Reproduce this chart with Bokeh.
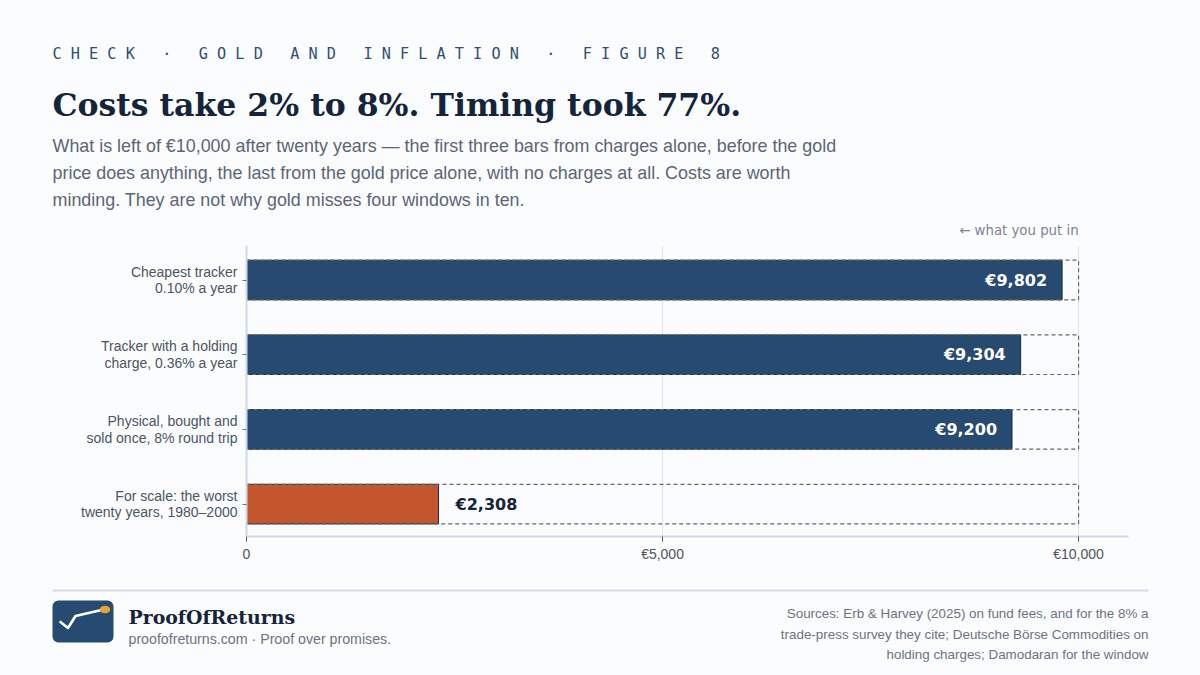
from bokeh.plotting import figure
from bokeh.layouts import column
from bokeh.models import Label, BoxAnnotation, FixedTicker, ColumnDataSource, Range1d
from bokeh.core.properties import value
from bokeh.embed import file_html
from bokeh.resources import INLINE

# ---------------- data ----------------
categories = [
    "Cheapest tracker\n0.10% a year",
    "Tracker with a holding\ncharge, 0.36% a year",
    "Physical, bought and\nsold once, 8% round trip",
    "For scale: the worst\ntwenty years, 1980\u20132000",
]
values = [9802, 9304, 9200, 2308]
bar_colors = ["#264a70", "#264a70", "#264a70", "#c4562e"]
stake = 10000
x_ticks = [0, 5000, 10000]
x_tick_labels = ["0", "\u20ac5,000", "\u20ac10,000"]

header = "CHECK \u00b7 GOLD AND INFLATION \u00b7 FIGURE 8"
title = "Costs take 2% to 8%. Timing took 77%."
subtitle_lines = [
    "What is left of \u20ac10,000 after twenty years \u2014 the first three bars from charges alone, before the gold",
    "price does anything, the last from the gold price alone, with no charges at all. Costs are worth",
    "minding. They are not why gold misses four windows in ten.",
]
stake_note = "\u2190 what you put in"
brand = "ProofOfReturns"
brand_tag = "proofofreturns.com \u00b7 Proof over promises."
source_lines = [
    "Sources: Erb & Harvey (2025) on fund fees, and for the 8% a",
    "trade-press survey they cite; Deutsche B\u00f6rse Commodities on",
    "holding charges; Damodaran for the window",
]

# ---------------- styling ----------------
BG = "#fbfcfe"
NAVY = "#264a70"
INK = "#14243b"
GREY = "#5b6577"
SANS = "Liberation Sans"

W = 1200
H1, H2, H3 = 243, 327, 105          # header / chart / footer heights
FL, FR, FT, FB = 246, 1128, 245, 536  # chart frame on the page
X_MAX = 10600


def blank(height, y0):
    f = figure(width=W, height=height, output_backend="svg", toolbar_location=None,
               x_range=Range1d(0, W), y_range=Range1d(y0 + height, y0),
               min_border=0, background_fill_color=BG, border_fill_color=BG,
               outline_line_color=None)
    f.axis.visible = False
    f.grid.visible = False
    return f


def lab(f, text, x, y, size, color, font=SANS, style="normal", align="left"):
    px = float(size[:-2])
    f.add_layout(Label(x=x, y=y - 0.35 * px, text=text, text_font=font,
                       text_font_size=size, text_font_style=style, text_color=color,
                       text_align=align, text_baseline="alphabetic"))


# ---------------- header ----------------
hdr = blank(H1, 0)
spaced = "\u00a0".join("\u00a0" if c == " " else c for c in header)
lab(hdr, spaced, 52, 59, "15.2px", "#2e4e75", font="DejaVu Sans Mono")
lab(hdr, title, 52, 115, "31.5px", INK, font="DejaVu Serif", style="bold")
for i, line in enumerate(subtitle_lines):
    lab(hdr, line, 52, 152 + 27 * i, "17.9px", GREY)
# note sits above the stake line of the chart below
note_x = FL + stake * (FR - FL) / X_MAX
lab(hdr, stake_note, note_x, 234.5, "13.3px", "#7b8494", font="DejaVu Sans", align="right")

# ---------------- chart ----------------
n = len(categories)
ypos = list(range(n - 1, -1, -1))
inside = [v > stake / 2 for v in values]
src = ColumnDataSource(dict(
    y=ypos,
    v=values,
    stake=[stake] * n,
    color=bar_colors,
    label=["\u20ac{:,}".format(v) for v in values],
    align=["right" if i else "left" for i in inside],
    xoff=[-15 if i else 17 for i in inside],
    tcolor=["#ffffff" if i else INK for i in inside],
))

p = figure(width=W, height=H2, output_backend="svg", toolbar_location=None,
           x_range=Range1d(0, X_MAX), y_range=Range1d(-0.434, 3.462),
           min_border_left=FL, min_border_right=W - FR,
           min_border_top=FT - H1, min_border_bottom=H1 + H2 - FB,
           background_fill_color=BG, border_fill_color=BG,
           outline_line_color=None)

p.xaxis.ticker = FixedTicker(ticks=x_ticks)
p.xaxis.major_label_overrides = dict(zip(x_ticks, x_tick_labels))
p.xaxis.axis_line_color = "#cfd9e6"
p.xaxis.axis_line_width = 2
p.xaxis.major_tick_line_color = "#4b5563"
p.xaxis.major_tick_in = 0
p.xaxis.major_tick_out = 5
p.xaxis.minor_tick_line_color = None
p.xaxis.major_label_text_font = SANS
p.xaxis.major_label_text_font_size = "14px"
p.xaxis.major_label_text_color = "#4b5563"
p.xaxis.major_label_standoff = 4

p.yaxis.ticker = FixedTicker(ticks=ypos)
p.yaxis.major_label_overrides = dict(zip(ypos, categories))
p.yaxis.axis_line_color = "#cfd9e6"
p.yaxis.axis_line_width = 2
p.yaxis.major_tick_line_color = "#6b7280"
p.yaxis.major_tick_in = 0
p.yaxis.major_tick_out = 4
p.yaxis.minor_tick_line_color = None
p.yaxis.major_label_text_font = SANS
p.yaxis.major_label_text_font_size = "14px"
p.yaxis.major_label_text_line_height = 1.03
p.yaxis.major_label_text_color = "#4b5563"
p.yaxis.major_label_standoff = 5

p.xgrid.ticker = FixedTicker(ticks=x_ticks)
p.xgrid.grid_line_color = "#dde4ee"
p.xgrid.grid_line_width = 1
p.ygrid.visible = False

p.hbar(y="y", left=0, right="v", height=0.53, fill_color="color",
       line_color="#1b2b42", line_width=1, source=src)
p.hbar(y="y", left=0, right="stake", height=0.53, fill_color=None,
       line_color="#5f6878", line_dash="4 3", line_width=1.2, source=src)
p.text(x="v", y="y", text="label", x_offset="xoff", text_align="align",
       text_baseline="middle", text_color="tcolor",
       text_font=value("DejaVu Sans"), text_font_style="bold",
       text_font_size="16px", source=src)

# ---------------- footer ----------------
ftr = blank(H3, H1 + H2)
ftr.add_layout(BoxAnnotation(left=52, right=1148, top=589, bottom=591,
                             fill_color="#d3dce8", fill_alpha=1, line_color=None))
ftr.add_layout(BoxAnnotation(left=52, right=113, top=600, bottom=642,
                             fill_color=NAVY, fill_alpha=1, line_color=None,
                             border_radius=6, level="underlay"))
ftr.line(x=[60, 67.5, 75, 101], y=[621.5, 627.5, 615.5, 609.5], line_color="white",
         line_width=2.6, line_cap="round", line_join="round")
ftr.ellipse(x=104.5, y=609, width=10.5, height=7.5, fill_color="#e8a23a", line_color=None)

lab(ftr, brand, 128, 623.3, "18.9px", INK, font="DejaVu Serif", style="bold")
lab(ftr, brand_tag, 128, 643.5, "14.2px", "#6b7385")
for i, line in enumerate(source_lines):
    lab(ftr, line, 1148, 618 + 20.3 * i, "13.4px", "#6b7385", align="right")

layout = column(column(hdr), p, column(ftr), spacing=0)
open("out.html", "w").write(file_html(layout, INLINE))
